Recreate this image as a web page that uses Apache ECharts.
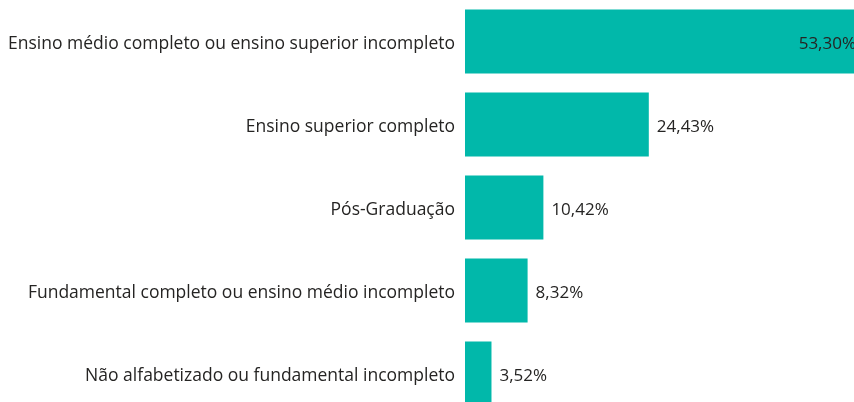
<!DOCTYPE html>
<html><head><meta charset="utf-8">
<script src="https://cdn.jsdelivr.net/npm/echarts@6/dist/echarts.min.js"></script>
<style>html,body{margin:0;padding:0;overflow:hidden;background:#fff;width:854px;height:402px}#c{width:866px;height:415px}</style>
</head><body><div id="c"></div>
<script>
const categories = ["Ensino médio completo ou ensino superior incompleto","Ensino superior completo","Pós-Graduação","Fundamental completo ou ensino médio incompleto","Não alfabetizado ou fundamental incompleto"];
const values = [53.30, 24.43, 10.42, 8.32, 3.52];
const chart = echarts.init(document.getElementById('c'), null, {renderer:'canvas'});
const fontFamily = "'Open Sans', sans-serif";
chart.setOption({
  animation:false,
  grid:{left:465,right:0,top:0,bottom:0,containLabel:false},
  xAxis:{type:'value',min:0,max:53.3,show:false},
  yAxis:{type:'category',data:categories,inverse:true,axisLine:{show:false},axisTick:{show:false},
    axisLabel:{margin:10,color:'#252423',formatter:v=>'{a|'+v+'}',
      rich:{a:{fontSize:17.5,color:'#252423',fontFamily:fontFamily,padding:[6,0,0,0]}}}},
  series:[{type:'bar',barWidth:64,itemStyle:{color:'#01B8AA'},
    data:values.map((v,i)=>({value:v,label:{position:i===0?'insideRight':'right',distance:i===0?10:8}})),
    label:{show:true,fontSize:17,color:'#252423',fontFamily:fontFamily,offset:[0,3],
      formatter:p=>p.value.toFixed(2).replace('.',',')+'%'}}]
});
</script></body></html>
